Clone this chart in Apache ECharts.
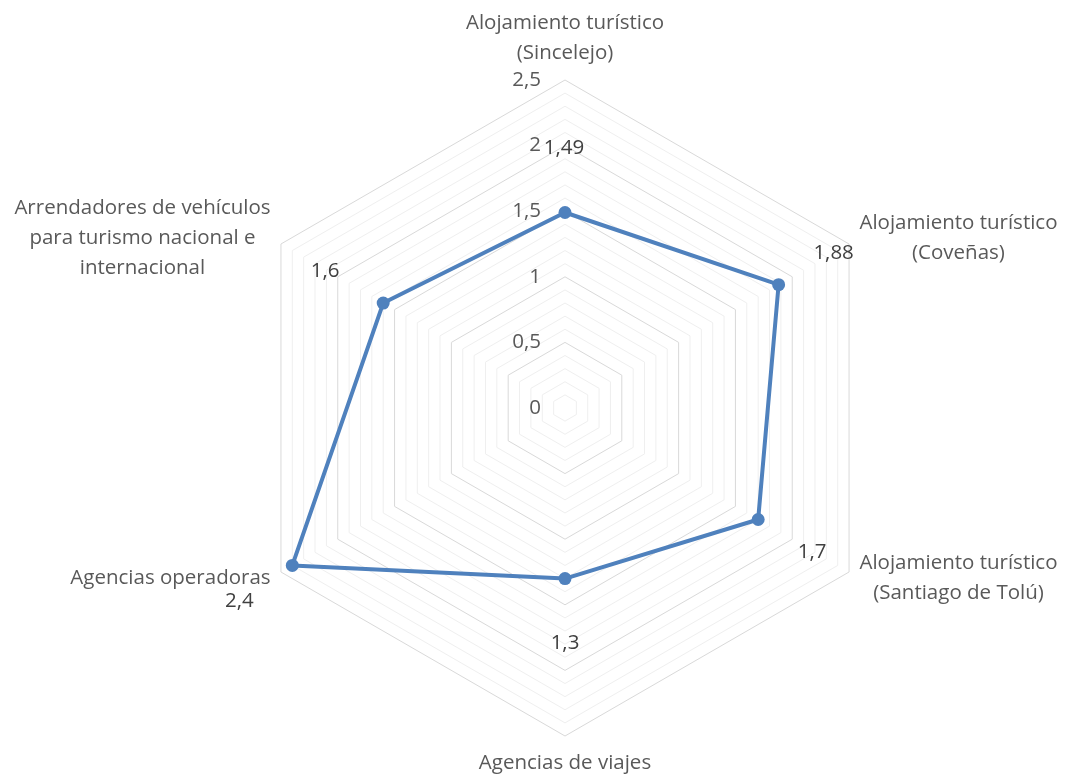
<!DOCTYPE html>
<html><head><meta charset="utf-8">
<script src="https://cdn.jsdelivr.net/npm/echarts@6/dist/echarts.min.js"></script>
<style>html,body{margin:0;padding:0;background:#fff}#c{width:1071px;height:776px}</style>
</head><body><div id="c"></div>
<script>
// Categories in clockwise order starting from the top
const categories = [
  'Alojamiento turístico\n(Sincelejo)',
  'Alojamiento turístico\n(Coveñas)',
  'Alojamiento turístico\n(Santiago de Tolú)',
  'Agencias de viajes',
  'Agencias operadoras',
  'Arrendadores de vehículos\npara turismo nacional e\ninternacional'
];
const values = [1.49, 1.88, 1.7, 1.3, 2.4, 1.6];
const axisMax = 2.5;
const majorStep = 0.5;
const tickLabels = ['0', '0,5', '1', '1,5', '2', '2,5'];

// label offsets (style) per vertex, clockwise order
const labelOffsets = [[-1, -64], [55, -32], [54, 33], [0, 65], [-53, 36], [-58, -32]];

// ECharts places indicators counter-clockwise: map clockwise order
const order = [0, 5, 4, 3, 2, 1];
const ccwCats = order.map(i => categories[i]);
const ccwVals = order.map(i => values[i]);
const ccwOffsets = order.map(i => labelOffsets[i]);

const fmt = v => String(v).replace('.', ',');
const FONT = 'Open Sans';
const FS = 20.5;

const indicator = ccwCats.map((name, i) => {
  const o = { name: name, max: axisMax, min: 0 };
  if (i === 0) {
    o.axisLabel = {
      show: true,
      formatter: function (v) {
        const k = Math.round(v / majorStep);
        if (Math.abs(v - k * majorStep) < 1e-6 && tickLabels[k] !== undefined) return tickLabels[k];
        return '';
      }
    };
  }
  return o;
});

const splitColors = [];
for (let i = 0; i < 5; i++) splitColors.push(i === 0 ? '#d9d9d9' : '#efefef');

const carriers = ccwVals.map((v, k) => ({
  value: ccwVals.slice(),
  symbolSize: 1,
  lineStyle: { opacity: 0, width: 0 },
  itemStyle: { color: 'rgba(0,0,0,0)' },
  label: {
    show: true,
    position: 'inside',
    offset: ccwOffsets[k],
    color: '#404040',
    fontFamily: FONT,
    fontSize: FS,
    formatter: function (p) {
      if (p.dimensionIndex != null) return p.dimensionIndex === k ? fmt(v) : '';
      return p.value === v ? fmt(v) : '';
    }
  }
}));

const chart = echarts.init(document.getElementById('c'), null, { renderer: 'canvas' });
chart.setOption({
  animation: false,
  backgroundColor: '#ffffff',
  radar: {
    center: [565, 408],
    radius: 328,
    startAngle: 90,
    shape: 'polygon',
    splitNumber: 25,
    indicator: indicator,
    nameGap: 12,
    axisName: {
      color: '#595959',
      fontFamily: FONT,
      fontSize: FS,
      formatter: function (name) {
        return name.split('\n').map(l => '{n|' + l + '}').join('\n');
      },
      rich: {
        n: { align: 'center', color: '#595959', fontFamily: FONT, fontSize: FS, lineHeight: 30 }
      }
    },
    axisLine: { show: false },
    axisTick: { show: false },
    axisLabel: {
      show: false,
      color: '#595959',
      fontFamily: FONT,
      fontSize: FS,
      margin: 24
    },
    splitArea: { show: false },
    splitLine: { show: true, lineStyle: { color: splitColors, width: 1 } }
  },
  series: [{
    type: 'radar',
    silent: true,
    data: [{
      value: ccwVals,
      symbol: 'circle',
      symbolSize: 13,
      lineStyle: { color: '#4f81bd', width: 4 },
      itemStyle: { color: '#4f81bd' },
      label: { show: false }
    }].concat(carriers)
  }]
});
</script>
</body></html>
